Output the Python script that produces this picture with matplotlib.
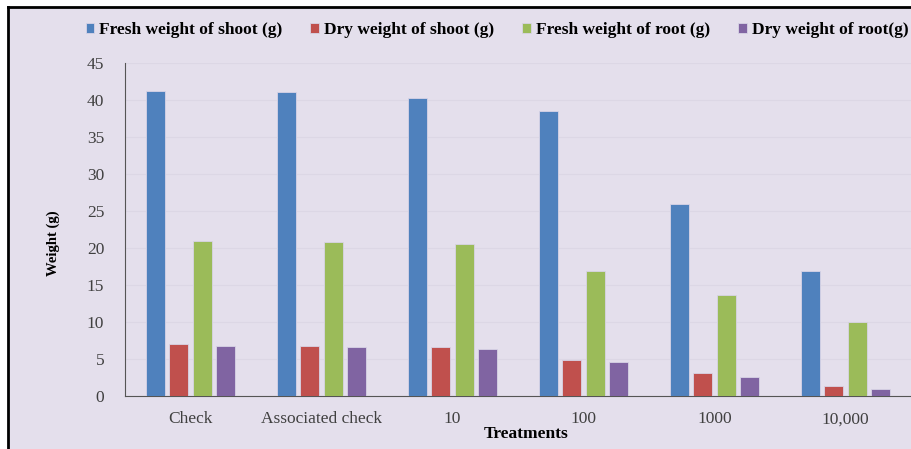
import matplotlib.pyplot as plt
import numpy as np
from matplotlib.patches import Rectangle
from matplotlib.lines import Line2D

treatments = ['Check', 'Associated check', '10', '100', '1000', '10,000']
fresh_shoot = [41.2, 41.1, 40.3, 38.5, 25.9, 16.9]
dry_shoot = [7.0, 6.8, 6.6, 4.9, 3.1, 1.35]
fresh_root = [20.9, 20.8, 20.5, 16.9, 13.6, 10.0]
dry_root = [6.8, 6.6, 6.4, 4.6, 2.6, 1.0]

series = [
    ('Fresh weight of shoot (g)', fresh_shoot, '#4F81BD'),
    ('Dry weight of shoot (g)', dry_shoot, '#C0504D'),
    ('Fresh weight of root (g)', fresh_root, '#9BBB59'),
    ('Dry weight of root(g)', dry_root, '#8064A2'),
]

bg = '#E4DFEC'
plt.rcParams['font.family'] = ['Liberation Serif', 'DejaVu Serif']

fig = plt.figure(figsize=(9.12, 4.49), dpi=100)
fig.patch.set_facecolor('white')

# lavender panel with black top/left edge
fig.patches.append(Rectangle((8 / 912, 0), 1, 1 - 7 / 449, transform=fig.transFigure,
                             facecolor=bg, edgecolor='none', zorder=-2))
fig.lines.append(Line2D([8 / 912, 8 / 912], [0, 1 - 7 / 449], transform=fig.transFigure,
                        color='black', lw=2))
fig.lines.append(Line2D([8 / 912, 1], [1 - 7 / 449, 1 - 7 / 449], transform=fig.transFigure,
                        color='black', lw=2))

ax = fig.add_axes([125 / 912, 1 - 396 / 449, (911 - 125) / 912, (396 - 63) / 449])
ax.set_facecolor(bg)

x = np.arange(len(treatments))
width = 0.145
step = 0.18
for i, (name, vals, col) in enumerate(series):
    ax.bar(x + (i - 1.5) * step, vals, width, color=col, label=name,
           edgecolor='#D8D4E6', linewidth=0.6, zorder=3)

ax.set_xlim(-0.5, len(treatments) - 0.5)
ax.set_ylim(0, 45)
ax.set_yticks(range(0, 46, 5))
ax.set_xticks(x)
ax.set_xticklabels(treatments)
ax.tick_params(length=0, labelsize=12.5, colors='#404040')
ax.tick_params(axis='x', pad=11)
ax.tick_params(axis='y', pad=15)
ax.grid(axis='y', color='#DCD7E5', lw=0.8, zorder=0)

for s in ['top', 'right']:
    ax.spines[s].set_visible(False)
ax.spines['left'].set_color('#555555')
ax.spines['bottom'].set_color('#555555')

ax.set_ylabel('Weight (g)', fontweight='bold', fontsize=10.5)
ax.yaxis.set_label_coords(-0.083, 0.46)
ax.set_xlabel('Treatments', fontweight='bold', fontsize=12.5)
ax.xaxis.set_label_coords(0.51, -0.09)

fig.legend(loc='center', bbox_to_anchor=(0.545, 0.933), ncol=4, frameon=False,
           prop={'weight': 'bold', 'size': 12.5}, handlelength=0.5, handleheight=0.5,
           handletextpad=0.3, columnspacing=1.6)

fig.savefig('out.png', dpi=100)
